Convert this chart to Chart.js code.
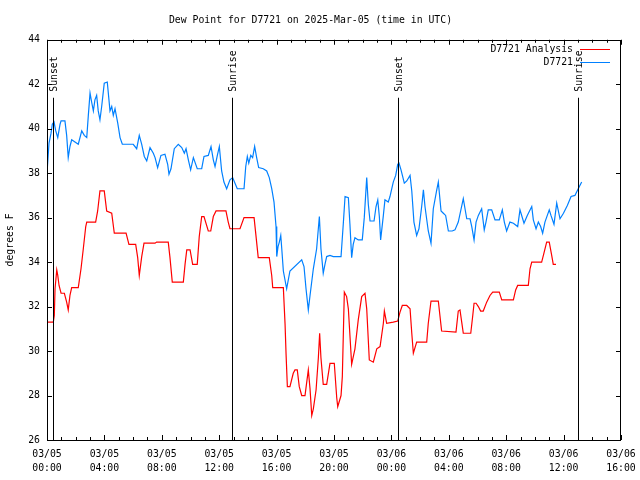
<!DOCTYPE html>
<html>
<head>
<meta charset="utf-8">
<script src="https://cdn.jsdelivr.net/npm/chart.js@4/dist/chart.umd.min.js"></script>
<style>
html,body{margin:0;padding:0;background:#fff;}
canvas{display:block;}
</style>
</head>
<body>
<canvas id="c" width="640" height="480"></canvas>
<script>
// ---- data (hours since 03/05 00:00 UTC, degrees F) ----
const analysisTimes = [0,0.44,0.51,0.56,0.68,0.75,0.84,0.98,1.21,1.37,1.48,1.60,1.72,2.18,2.37,2.53,2.70,2.77,3.39,3.53,3.69,3.99,4.16,4.51,4.69,5.51,5.71,6.18,6.32,6.43,6.60,6.76,7.53,7.64,8.45,8.57,8.73,9.50,9.62,9.74,9.97,10.15,10.47,10.61,10.78,10.94,11.24,11.41,11.59,11.78,12.47,12.63,12.75,13.45,13.73,14.43,14.56,14.72,15.49,15.66,15.73,16.47,16.59,16.66,16.75,16.93,17.16,17.28,17.44,17.58,17.75,17.98,18.10,18.21,18.33,18.45,18.56,18.75,18.91,19.00,19.09,19.25,19.49,19.72,20.02,20.19,20.26,20.49,20.58,20.72,20.88,21.00,21.23,21.46,21.69,21.93,22.16,22.28,22.46,22.74,22.98,23.21,23.44,23.51,23.67,24.13,24.44,24.60,24.76,25.07,25.30,25.42,25.53,25.76,26.46,26.57,26.76,27.27,27.50,28.50,28.66,28.78,28.90,29.01,29.53,29.67,29.76,29.90,30.06,30.22,30.40,30.64,30.87,31.06,31.52,31.69,32.50,32.66,32.80,33.54,33.66,33.78,34.47,34.63,34.82,35.00,35.17,35.28,35.47];
const analysisValues = [31.3,31.3,31.6,32.8,33.65,33.4,32.95,32.6,32.6,32.2,31.85,32.5,32.85,32.85,33.7,34.6,35.6,35.8,35.8,36.3,37.2,37.2,36.3,36.2,35.3,35.3,34.8,34.8,34.2,33.4,34.25,34.85,34.85,34.9,34.9,34.2,33.1,33.1,33.9,34.55,34.55,33.9,33.9,35.15,36.05,36.05,35.4,35.4,36.05,36.3,36.3,35.8,35.5,35.5,36.0,36.0,35.2,34.2,34.2,33.4,32.85,32.85,31.2,29.85,28.4,28.4,29.0,29.15,29.15,28.4,28.0,28.0,28.6,29.15,28.3,27.1,27.4,28.25,29.7,30.8,29.7,28.5,28.5,29.45,29.45,27.9,27.5,28.0,28.85,32.65,32.45,31.9,29.4,30.1,31.4,32.45,32.6,31.9,29.6,29.5,30.1,30.2,31.25,31.8,31.25,31.3,31.35,31.75,32.05,32.05,31.9,30.8,29.9,30.4,30.4,31.25,32.25,32.25,30.9,30.85,31.8,31.85,31.3,30.8,30.8,31.6,32.15,32.15,32.0,31.8,31.8,32.2,32.5,32.65,32.65,32.3,32.3,32.75,32.95,32.95,33.7,34.0,34.0,34.4,34.9,34.9,34.3,33.9,33.9];

const stationTimes = [0,0.14,0.28,0.37,0.49,0.61,0.75,0.91,0.98,1.25,1.37,1.48,1.60,1.72,1.95,2.18,2.42,2.60,2.77,2.88,3.00,3.11,3.23,3.34,3.46,3.57,3.69,3.81,3.99,4.20,4.39,4.51,4.62,4.74,4.93,5.09,5.25,6.01,6.25,6.43,6.60,6.78,6.95,7.18,7.41,7.53,7.71,7.94,8.22,8.41,8.50,8.64,8.87,9.15,9.39,9.57,9.69,9.85,10.01,10.20,10.47,10.78,10.94,11.24,11.43,11.59,11.71,11.87,12.01,12.17,12.33,12.52,12.75,12.94,13.10,13.26,13.73,13.85,13.96,14.06,14.20,14.33,14.47,14.61,14.75,15.07,15.31,15.49,15.66,15.82,15.96,16.01,16.10,16.19,16.29,16.36,16.47,16.70,16.93,17.75,17.91,18.05,18.21,18.33,18.56,18.79,18.98,19.09,19.25,19.37,19.49,19.72,19.95,20.49,20.65,20.77,21.00,21.11,21.23,21.34,21.46,21.69,21.97,22.11,22.28,22.39,22.51,22.79,22.93,23.05,23.16,23.25,23.44,23.55,23.78,23.90,24.13,24.30,24.44,24.53,24.67,24.90,25.07,25.30,25.42,25.57,25.76,25.92,26.11,26.23,26.34,26.57,26.76,26.92,27.16,27.27,27.46,27.62,27.78,27.97,28.24,28.43,28.66,29.01,29.25,29.48,29.60,29.76,29.90,30.06,30.29,30.47,30.59,30.75,30.99,31.22,31.52,31.73,31.87,32.03,32.26,32.50,32.80,32.96,33.24,33.47,33.78,33.89,34.08,34.24,34.40,34.54,34.70,35.00,35.12,35.33,35.52,35.75,35.99,36.26,36.52,36.79,37.02,37.26];
const stationValues = [38.0,39.35,39.8,40.2,40.3,39.9,39.6,40.2,40.35,40.35,39.7,38.7,39.2,39.5,39.4,39.3,39.9,39.7,39.6,40.6,41.6,41.2,40.8,41.3,41.5,40.8,40.4,41.0,42.05,42.1,40.8,41.0,40.6,40.9,40.25,39.6,39.3,39.3,39.1,39.7,39.3,38.75,38.55,39.15,38.9,38.7,38.25,38.8,38.85,38.4,37.95,38.2,39.1,39.3,39.15,38.9,39.1,38.6,38.15,38.7,38.2,38.2,38.75,38.8,39.2,38.6,38.3,38.8,39.2,38.1,37.6,37.3,37.7,37.8,37.55,37.3,37.3,38.3,38.75,38.45,38.8,38.7,39.2,38.7,38.25,38.2,38.1,37.8,37.3,36.7,35.6,34.25,34.7,34.9,35.2,34.6,33.6,32.8,33.6,34.1,33.8,32.8,31.85,32.5,33.7,34.6,36.05,34.6,33.5,33.9,34.25,34.3,34.25,34.25,35.75,36.95,36.9,35.7,34.2,34.8,35.1,35.0,35.0,36.0,37.8,36.6,35.85,35.85,36.5,36.8,36.05,35.0,36.1,36.8,36.7,36.95,37.6,37.9,38.4,38.45,38.15,37.55,37.65,37.9,37.2,35.8,35.2,35.5,36.5,37.25,36.5,35.4,34.85,36.4,37.25,37.6,36.3,36.2,36.1,35.4,35.4,35.45,35.8,36.85,35.95,35.95,35.6,35.0,35.8,36.1,36.4,35.45,35.8,36.35,36.35,35.9,35.9,36.35,35.8,35.4,35.8,35.75,35.6,36.35,35.75,36.1,36.5,35.9,35.5,35.8,35.6,35.3,35.8,36.35,36.1,35.7,36.65,35.95,36.2,36.55,36.95,37.0,37.3,37.6];

const seriesLabels = ["D7721 Analysis", "D7721"];
const xTickLabels = [["03/05","00:00"],["03/05","04:00"],["03/05","08:00"],["03/05","12:00"],["03/05","16:00"],["03/05","20:00"],["03/06","00:00"],["03/06","04:00"],["03/06","08:00"],["03/06","12:00"],["03/06","16:00"]];
const eventTimes = [0.44, 12.92, 24.48, 36.98];
const eventLabels = ["Sunset", "Sunrise", "Sunset", "Sunrise"];
const titleText = "Dew Point for D7721 on 2025-Mar-05 (time in UTC)";
const yAxisLabel = "degrees F";

// ---- styling ----
const FONT = "'DejaVu Sans Mono', 'Liberation Mono', monospace";
const FS = 9.8;
const colors = ["#ff0000", "#0080ff"];

function pts(t, v){ return t.map((x,i)=>({x:x, y:v[i]})); }

const framePlugin = {
  id: 'frame',
  afterDatasetsDraw(chart){
    const ctx = chart.ctx, a = chart.chartArea;
    const xs = chart.scales.x, ys = chart.scales.y;
    ctx.save();
    ctx.strokeStyle = '#000';
    ctx.lineWidth = 1;
    // event lines + labels
    ctx.font = FS + "px " + FONT;
    ctx.fillStyle = '#000';
    eventTimes.forEach((t,i)=>{
      const x = Math.round(xs.getPixelForValue(t)) + 0.5;
      ctx.beginPath();
      ctx.moveTo(x, a.top + 58);
      ctx.lineTo(x, a.bottom);
      ctx.stroke();
      ctx.save();
      ctx.translate(x + 0.5, a.top + 52);
      ctx.rotate(-Math.PI/2);
      ctx.textAlign = 'left';
      ctx.textBaseline = 'middle';
      ctx.fillText(eventLabels[i], 0, 0);
      ctx.restore();
    });
    // border
    ctx.strokeRect(Math.round(a.left)+0.5, Math.round(a.top)+0.5, Math.round(a.right-a.left)-1, Math.round(a.bottom-a.top));
    // y ticks
    ys.ticks.forEach(tk=>{
      const y = Math.round(ys.getPixelForValue(tk.value)) + 0.5;
      ctx.beginPath();
      ctx.moveTo(a.left, y); ctx.lineTo(a.left+5, y);
      ctx.moveTo(a.right, y); ctx.lineTo(a.right-5, y);
      ctx.stroke();
    });
    // x ticks (major every 4h, minor every 1h)
    for (let h = xs.min; h <= xs.max; h++) {
      const x = Math.round(xs.getPixelForValue(h)) + 0.5;
      const len = (h % 4 === 0) ? 5 : 3;
      ctx.beginPath();
      ctx.moveTo(x, a.bottom); ctx.lineTo(x, a.bottom-len);
      ctx.moveTo(x, a.top); ctx.lineTo(x, a.top+len);
      ctx.stroke();
    }
    // legend
    ctx.font = FS + "px " + FONT;
    ctx.textAlign = 'right';
    ctx.textBaseline = 'middle';
    chart.data.datasets.forEach((ds,i)=>{
      const y = a.top + 9.5 + i*12.7;
      ctx.fillStyle = '#000';
      ctx.fillText(ds.label, a.right - 48, y);
      ctx.strokeStyle = ds.borderColor;
      ctx.beginPath();
      ctx.moveTo(a.right - 41, Math.round(y)+0.5);
      ctx.lineTo(a.right - 11, Math.round(y)+0.5);
      ctx.stroke();
    });
    ctx.restore();
  }
};

new Chart(document.getElementById('c'), {
  type: 'line',
  data: {
    datasets: [
      { label: seriesLabels[0], data: pts(analysisTimes, analysisValues), borderColor: colors[0], borderWidth: 1.2, pointRadius: 0, tension: 0, fill: false },
      { label: seriesLabels[1], data: pts(stationTimes, stationValues), borderColor: colors[1], borderWidth: 1.2, pointRadius: 0, tension: 0, fill: false }
    ]
  },
  options: {
    responsive: false,
    animation: false,
    devicePixelRatio: 1,
    layout: { padding: { left: 0, right: 19, top: 0, bottom: 0 } },
    plugins: {
      legend: { display: false },
      tooltip: { enabled: false },
      title: { display: true, text: titleText, color: '#000', font: { family: FONT, size: FS, weight: 'normal', lineHeight: 1.2 }, padding: { top: 15, bottom: 13 } }
    },
    scales: {
      x: {
        type: 'linear', min: 0, max: 40,
        grid: { display: false, drawTicks: false },
        border: { display: false },
        ticks: { stepSize: 4, autoSkip: false, maxRotation: 0, padding: 7, color: '#000',
          font: { family: FONT, size: FS, lineHeight: 1.43 },
          callback: (v) => xTickLabels[Math.round(v/4)] },
        afterFit: (s) => { s.height = 40; s.paddingLeft = 0; s.paddingRight = 0; }
      },
      y: {
        min: 26, max: 44,
        grid: { display: false, drawTicks: false },
        border: { display: false },
        ticks: { stepSize: 2, padding: 7, color: '#000', font: { family: FONT, size: FS } },
        title: { display: true, text: yAxisLabel, color: '#000', font: { family: FONT, size: FS }, padding: { top: 5, bottom: 0 } },
        afterFit: (s) => { s.width = 47; s.paddingTop = 0; s.paddingBottom = 0; }
      }
    }
  },
  plugins: [framePlugin]
});
</script>
</body>
</html>
